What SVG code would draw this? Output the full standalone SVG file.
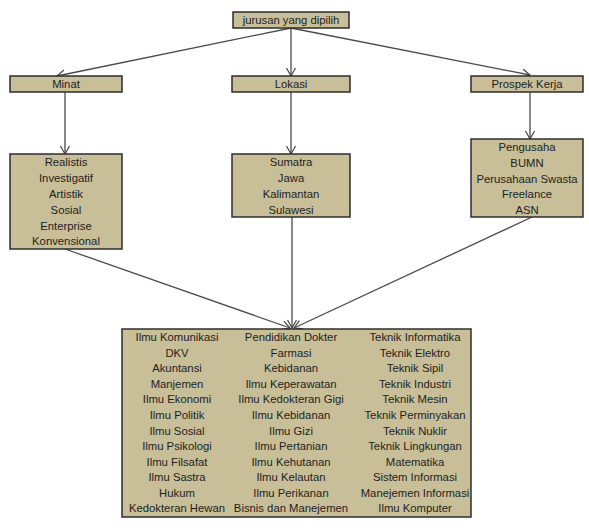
<svg xmlns="http://www.w3.org/2000/svg" width="589" height="528" viewBox="0 0 589 528">
<defs>
<marker id="arr" markerWidth="12" markerHeight="12" refX="9" refY="5" orient="auto" markerUnits="userSpaceOnUse">
<path d="M1,0.5 L9,5 L1,9.5" fill="none" stroke="#444" stroke-width="1.2"/>
</marker>
<style>
.box{fill:#c8bf98;stroke:#2e2e2e;stroke-width:1.5}
text{font-family:"Liberation Sans",Arial,sans-serif;font-size:11.3px;fill:#1e1e1e;text-anchor:middle}
.c{fill:none;stroke:#4a4a4a;stroke-width:1.3;marker-end:url(#arr)}
</style>
</defs>
<rect width="589" height="528" fill="#fff"/>
<g id="connectors">
<line class="c" x1="291" y1="28" x2="57" y2="76"/>
<line class="c" x1="291" y1="28" x2="291" y2="76"/>
<line class="c" x1="291" y1="28" x2="530" y2="75"/>
<line class="c" x1="65" y1="92" x2="65" y2="154"/>
<line class="c" x1="291" y1="92" x2="291" y2="154"/>
<line class="c" x1="530" y1="92" x2="530" y2="139"/>
<line class="c" x1="65" y1="249" x2="290" y2="328"/>
<line class="c" x1="292" y1="217" x2="292" y2="328"/>
<line class="c" x1="532" y1="217" x2="294" y2="328"/>
</g>
<g id="jurusan">
<rect class="box" x="233" y="12" width="116" height="16"/>
<text x="291" y="24">jurusan yang dipilih</text>
</g>
<g id="minat">
<rect class="box" x="10" y="76" width="112" height="16"/>
<text x="66" y="88">Minat</text>
</g>
<g id="lokasi">
<rect class="box" x="232" y="76" width="118" height="16"/>
<text x="291" y="88">Lokasi</text>
</g>
<g id="prospek">
<rect class="box" x="471" y="76" width="112" height="16"/>
<text x="527" y="88">Prospek Kerja</text>
</g>
<g id="minat-list">
<rect class="box" x="10" y="154" width="112" height="95"/>
<text x="66" y="166">Realistis</text>
<text x="66" y="182">Investigatif</text>
<text x="66" y="198">Artistik</text>
<text x="66" y="214">Sosial</text>
<text x="66" y="230">Enterprise</text>
<text x="66" y="245">Konvensional</text>
</g>
<g id="lokasi-list">
<rect class="box" x="232" y="154" width="118" height="63"/>
<text x="291" y="166">Sumatra</text>
<text x="291" y="182">Jawa</text>
<text x="291" y="198">Kalimantan</text>
<text x="291" y="214">Sulawesi</text>
</g>
<g id="prospek-list">
<rect class="box" x="471" y="139" width="112" height="78"/>
<text x="527" y="151">Pengusaha</text>
<text x="527" y="167">BUMN</text>
<text x="527" y="183">Perusahaan Swasta</text>
<text x="527" y="198">Freelance</text>
<text x="527" y="214">ASN</text>
</g>
<g id="jurusan-list">
<rect class="box" x="122" y="329" width="349" height="188"/>
<g>
<text x="177" y="341">Ilmu Komunikasi</text>
<text x="177" y="357">DKV</text>
<text x="177" y="372">Akuntansi</text>
<text x="177" y="388">Manjemen</text>
<text x="177" y="403">Ilmu Ekonomi</text>
<text x="177" y="419">Ilmu Politik</text>
<text x="177" y="435">Ilmu Sosial</text>
<text x="177" y="450">Ilmu Psikologi</text>
<text x="177" y="466">Ilmu Filsafat</text>
<text x="177" y="481">Ilmu Sastra</text>
<text x="177" y="497">Hukum</text>
<text x="177" y="512">Kedokteran Hewan</text>
</g>
<g>
<text x="291" y="341">Pendidikan Dokter</text>
<text x="291" y="357">Farmasi</text>
<text x="291" y="372">Kebidanan</text>
<text x="291" y="388">Ilmu Keperawatan</text>
<text x="291" y="403">Ilmu Kedokteran Gigi</text>
<text x="291" y="419">Ilmu Kebidanan</text>
<text x="291" y="435">Ilmu Gizi</text>
<text x="291" y="450">Ilmu Pertanian</text>
<text x="291" y="466">Ilmu Kehutanan</text>
<text x="291" y="481">Ilmu Kelautan</text>
<text x="291" y="497">Ilmu Perikanan</text>
<text x="291" y="512">Bisnis dan Manejemen</text>
</g>
<g>
<text x="415" y="341">Teknik Informatika</text>
<text x="415" y="357">Teknik Elektro</text>
<text x="415" y="372">Teknik Sipil</text>
<text x="415" y="388">Teknik Industri</text>
<text x="415" y="403">Teknik Mesin</text>
<text x="415" y="419">Teknik Perminyakan</text>
<text x="415" y="435">Teknik Nuklir</text>
<text x="415" y="450">Teknik Lingkungan</text>
<text x="415" y="466">Matematika</text>
<text x="415" y="481">Sistem Informasi</text>
<text x="415" y="497">Manejemen Informasi</text>
<text x="415" y="512">Ilmu Komputer</text>
</g>
</g>
</svg>
